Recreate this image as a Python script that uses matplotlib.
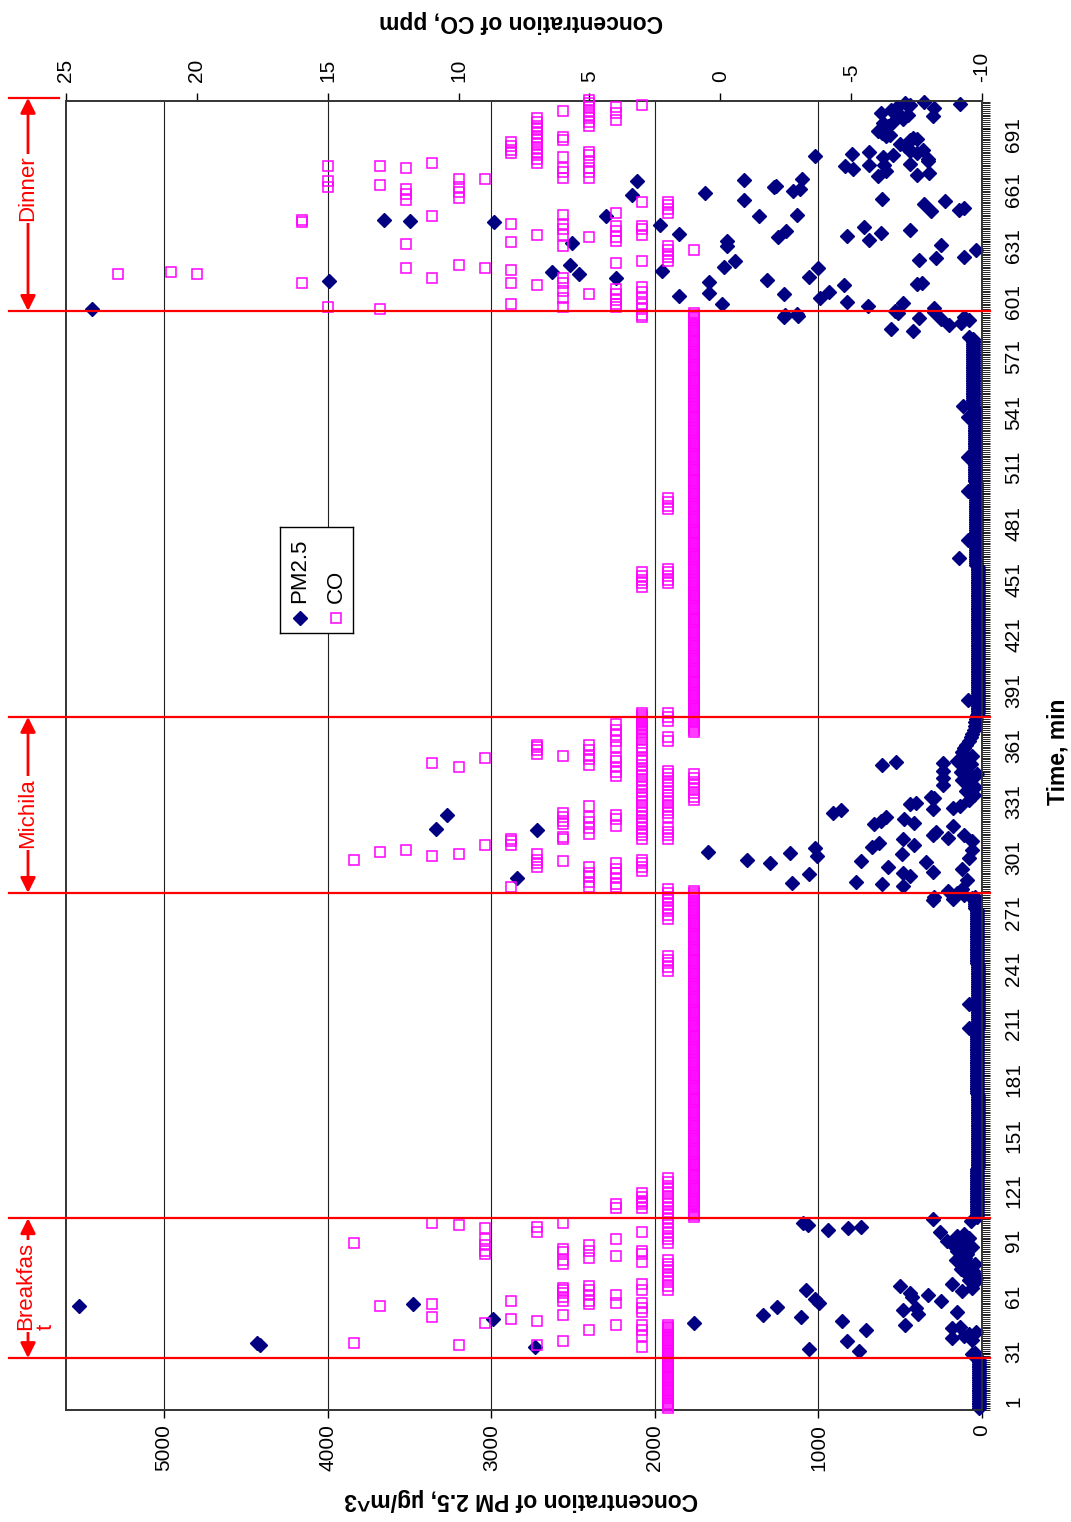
import numpy as np
import matplotlib
matplotlib.use("Agg")
import matplotlib.pyplot as plt
from matplotlib import transforms
from matplotlib.ticker import FixedLocator, MultipleLocator

plt.rcParams['font.family'] = ['Liberation Sans', 'DejaVu Sans']
plt.rcParams['axes.unicode_minus'] = False

# steady stretches (first minute, last minute, level), one reading per minute
pm_steady = [(1, 27, 16), (104, 130, 32), (131, 170, 26), (171, 205, 30), (206, 240, 24),
             (241, 270, 28), (271, 277, 45), (376, 420, 22), (421, 455, 24), (456, 500, 38),
             (501, 540, 42), (541, 578, 55)]
co_steady = [(1, 46, 2), (104, 280, 1), (366, 592, 1)]
# shorter CO stretches, one reading every 2 minutes
co_columns = [(65, 81, 2), (90, 98, 2), (101, 126, 2), (109, 118, 3), (237, 246, 2), (265, 282, 2),
              (291, 297, 3), (308, 352, 3), (356, 376, 3), (308, 314, 2), (320, 334, 2),
              (337, 346, 2), (361, 364, 2), (372, 377, 2), (329, 343, 1), (367, 375, 3),
              (444, 452, 3), (446, 455, 2), (486, 492, 2), (673, 697, 7), (693, 707, 5),
              (678, 685, 8), (646, 652, 2), (620, 628, 2)]

# PM2.5 readings (minute, ug/m3)
pm_breakfast = [(28, 25), (29, 35), (30, 60), (31, 45), (32, 754), (33, 1060), (34, 2732), (35, 4416),
                (36, 4430), (37, 825), (38, 60), (39, 185), (40, 111), (41, 80), (42, 38), (43, 709),
                (44, 185), (45, 133), (46, 470), (47, 1762), (48, 853), (49, 2987), (50, 1106),
                (51, 1340), (52, 391), (53, 150), (54, 480), (55, 406), (55.5, 1256), (56, 5522),
                (57, 3478), (58, 996), (59, 250), (60, 1018), (61, 428), (62, 333), (63, 438),
                (64, 122), (65, 1077), (66, 60), (67, 501), (68, 185), (69, 45), (70, 80), (71, 35),
                (72, 70), (73, 40), (74, 95), (75, 55), (76, 130), (77, 70), (78, 110), (79, 40),
                (80, 143), (81, 160), (82, 101), (83, 120), (84, 90), (85, 140), (86, 153), (87, 110),
                (88, 60), (89, 177), (90, 95), (91, 217), (92, 130), (93, 80), (94, 150), (95, 110),
                (96, 259), (97, 944), (98, 819), (99, 740), (100, 1064), (101, 1094), (102, 70),
                (103, 301)]
pm_michila = [(275, 301), (275.5, 179), (276, 60), (277, 293), (278, 110), (279, 150), (280, 208),
              (281, 120), (283, 480), (284, 611), (284.5, 1161), (285, 769), (286, 90), (287, 2845),
              (288, 438), (289, 1060), (290, 480), (290.5, 301), (292, 120), (293, 575), (295, 1296),
              (295.5, 343), (296, 738), (297, 1439), (298, 80), (299, 1007), (300, 491), (300.5, 1176),
              (301, 1677), (302, 60), (303, 1024), (304, 674), (305, 413), (306, 628), (307, 60),
              (308, 480), (308.5, 208), (310, 301), (310.5, 111), (312, 281), (313, 2723),
              (313.5, 3340), (315, 175), (316, 660), (316.5, 417), (318, 617), (319, 477), (320, 586),
              (321, 3271), (322, 913), (324, 864), (324.5, 301), (325, 175), (326, 133), (327, 440),
              (327.5, 406), (329, 80), (330, 291), (331, 312), (332, 50), (334, 100), (336, 40),
              (337, 238), (338, 65), (339, 90), (340, 120), (341, 238), (342, 60), (343, 30),
              (344, 130), (345, 238), (346, 110), (348, 611), (348.5, 70), (349, 238), (349.5, 523),
              (350, 150), (351, 100), (353, 60), (355, 120), (357, 110), (359, 95), (361, 80),
              (363, 70), (365, 60), (367, 50), (369, 45), (371, 40), (373, 35), (375, 30)]
pm_dinner = [(579, 79), (582, 424), (583.5, 556), (585.5, 202), (586.5, 128), (588, 79), (588.5, 249),
             (589, 385), (589.5, 111), (590, 1208), (590.5, 1127), (591, 1204), (591.5, 1134),
             (592, 515), (592.5, 291), (593, 533), (594, 5444), (594.5, 291), (595.5, 696),
             (596.5, 1587), (597.5, 480), (598, 828), (600, 990), (601, 1850), (602, 1208),
             (602.5, 1671), (603.5, 933), (607, 844), (607.5, 396), (608, 364), (608.5, 1671),
             (609, 3994), (609.5, 1313), (611, 2240), (611.5, 1060), (613, 2461), (614, 2630),
             (614.5, 1956), (616, 1003), (617, 1577), (618, 2521), (620, 1513), (620.5, 385),
             (621.5, 280), (622, 111), (626, 38), (628, 1559), (628.5, 249), (630.5, 1559),
             (629.5, 2504), (631.5, 691), (633, 1249), (633.5, 828), (634.5, 1850), (635, 617),
             (636, 1198), (636.5, 438), (638.5, 722), (639.5, 1966), (641, 2982), (641.5, 3499),
             (642, 3656), (644, 2297), (644.5, 1366), (645, 1130), (647, 312), (647.5, 143),
             (648.5, 111), (650.5, 354), (652.5, 227), (653, 1456), (653.5, 611), (655.5, 2139),
             (656.5, 1693), (657.5, 1155), (659, 1112), (660, 1271), (660.5, 1260), (663, 2108),
             (663.5, 1456), (664, 1098), (666, 638), (666.5, 396), (667.5, 322), (668.5, 586),
             (669.5, 786), (671, 839), (671.5, 691), (672, 597), (672.5, 438), (674, 333), (675, 333),
             (676, 607), (676.5, 1024), (677, 544), (677.5, 796), (678, 400), (679, 691),
             (679.5, 438), (680, 360), (681, 450), (682, 470), (683, 500), (685, 438), (686, 396),
             (686.5, 420), (687.5, 586), (688, 560), (689, 610), (690, 638), (691, 590), (693, 575),
             (694.5, 607), (695, 544), (696.5, 480), (698, 301), (698.5, 500), (699, 450),
             (700, 620), (701.5, 554), (702.5, 291), (703, 520), (704, 438), (704.5, 133),
             (705, 470), (706, 354)]
pm_spikes = [(206, 78), (219, 78), (383, 87), (459.5, 139), (469.5, 87), (496, 87), (514, 87),
             (536, 87), (542, 118)]

# CO readings (minute, ppm)
co_breakfast = [(34, 3), (35, 7), (35, 10), (36, 14), (37, 6), (40, 3), (43, 5), (43, 3), (46, 4),
                (46, 3), (47, 9), (48, 7), (49, 8), (50, 11), (51, 6), (53, 3), (55, 3), (56, 13),
                (57, 5), (57, 11), (58, 4), (58, 3), (59, 8), (59, 6), (59, 5), (61, 6), (62, 5),
                (62, 4), (63, 6), (65, 6), (65, 5), (65, 3), (66, 6), (67, 5), (68, 3), (79, 6),
                (80, 3), (81, 6), (82, 5), (83, 4), (84, 3), (84, 9), (85, 6), (86, 9), (86, 5),
                (86, 3), (87, 6), (89, 9), (89, 5), (90, 14), (92, 9), (92, 4), (96, 3), (96, 7),
                (98, 9), (99, 7), (100, 10), (101, 11), (101, 6), (109, 4), (111, 4), (112, 3)]
co_michila = [(282, 8), (282, 5), (285, 5), (288, 5), (290, 5), (293, 5), (282, 4), (284, 4),
              (287, 4), (290, 4), (292, 4), (295, 4), (293, 7), (295, 7), (296, 6), (297, 7),
              (297, 14), (299, 11), (300, 10), (300, 7), (301, 13), (302, 12), (305, 9), (305, 8),
              (307, 8), (308, 8), (308, 6), (309, 6), (311, 5), (314, 5), (315, 4), (317, 5),
              (316, 6), (318, 6), (319, 4), (320, 5), (320, 6), (321, 4), (322, 6), (326, 5),
              (342, 4), (344, 4), (347, 4), (347, 10), (349, 11), (350, 4), (348, 5), (351, 5),
              (352, 4), (352, 9), (353, 6), (353, 5), (354, 7), (356, 5), (356, 7), (358, 7),
              (358, 4), (359, 5), (359, 7), (361, 4), (364, 4), (367, 4), (370, 4)]
co_dinner = [(613, 23), (614, 21), (613, 20), (641, 16), (642, 16), (608, 16), (671, 15), (663, 15),
             (660, 15), (595, 15), (671, 13), (661, 13), (594, 13), (670, 12), (659, 12), (656, 12),
             (653, 12), (629, 12), (616, 12), (673, 11), (644, 11), (611, 11), (664, 10), (660, 10),
             (657, 10), (654, 10), (618, 10), (664, 9), (616, 9), (640, 8), (630, 8), (615, 8),
             (608, 8), (597, 8), (634, 7), (607, 7), (701, 6), (687, 6), (685, 6), (676, 6),
             (670, 6), (668, 6), (665, 6), (645, 6), (640, 6), (637, 6), (634, 6), (628, 6),
             (611, 6), (608, 6), (604, 6), (600, 6), (595, 6), (679, 5), (677, 5), (674, 5),
             (670, 5), (668, 5), (665, 5), (633, 5), (602, 5), (703, 4), (700, 4), (696, 4),
             (646, 4), (639, 4), (636, 4), (633, 4), (631, 4), (619, 4), (605, 4), (602, 4),
             (599, 4), (597, 4), (595, 4), (704, 3), (652, 3), (639, 3), (637, 3), (634, 3),
             (620, 3), (606, 3), (603, 3), (600, 3), (597, 3), (594, 3), (591, 3), (590, 3),
             (626, 1)]

# meal periods: (label, start minute, end minute)
meals = [("Breakfas\nt", 28, 103.5), ("Michila", 279, 374), ("Dinner", 593, 708)]
time_ticks = list(range(1, 692, 30))
pm_ticks = [0, 1000, 2000, 3000, 4000, 5000]
co_ticks = [-10, -5, 0, 5, 10, 15, 20, 25]


def runs_to_points(runs, step=1):
    t, v = [], []
    for start, end, level in runs:
        for m in range(start, end + 1, step):
            t.append(m)
            v.append(level)
    return t, v


pm_t, pm_v = runs_to_points(pm_steady)
for part in (pm_breakfast, pm_michila, pm_dinner, pm_spikes):
    pm_t += [p[0] for p in part]
    pm_v += [p[1] for p in part]

co_t, co_v = runs_to_points(co_steady)
col_t, col_v = runs_to_points(co_columns, step=2)
co_t += col_t
co_v += col_v
for part in (co_breakfast, co_michila, co_dinner):
    co_t += [p[0] for p in part]
    co_v += [p[1] for p in part]

W, H = 1071, 1522
fig = plt.figure(figsize=(W / 100, H / 100), dpi=100)
ax = fig.add_axes([66 / W, 1 - 1410 / H, (982 - 66) / W, (1410 - 101) / H])

ax.set_xlim(5600, 0)
ax.set_ylim(0, 706.3)
ax.set_xticks(pm_ticks)
ax.set_xticklabels([str(v) for v in pm_ticks])
ax.grid(axis='x', color='#202020', lw=0.8)
ax.set_axisbelow(True)
ax.tick_params(axis='x', direction='out', length=6, width=1, labelsize=15, labelrotation=90, pad=4)

ax.yaxis.tick_right()
ax.yaxis.set_major_locator(FixedLocator(time_ticks))
ax.yaxis.set_minor_locator(MultipleLocator(1))
ax.set_yticklabels([str(v) for v in time_ticks])
ax.tick_params(axis='y', which='major', direction='out', length=6, width=0.8, labelsize=15,
               labelrotation=90, pad=10)
ax.tick_params(axis='y', which='minor', direction='out', length=6, width=0.6)
shift = transforms.ScaledTranslation(0, 5 / 100, fig.dpi_scale_trans)
for lab in ax.get_yticklabels():
    lab.set_transform(lab.get_transform() + shift)

ax.plot(pm_v, pm_t, ls='none', marker='D', ms=7, color='#000080', clip_on=False, zorder=3)

ax2 = ax.twiny()
ax2.set_xlim(25, -10)
ax2.set_xticks(co_ticks)
ax2.set_xticklabels([str(v) for v in co_ticks])
ax2.tick_params(axis='x', direction='out', length=6, width=1, labelsize=15, labelrotation=90, pad=8)
ax2.plot(co_v, co_t, ls='none', marker='s', ms=7, mfc='none', mec='#FF00FF', mew=1.1,
         clip_on=False, zorder=3)

for a in (ax, ax2):
    for s in a.spines.values():
        s.set_color('#333333')
        s.set_linewidth(1.2)

# meal markers drawn outside the plot area on the left
trans = transforms.blended_transform_factory(fig.transFigure, ax.transData)
for label, start, end in meals:
    ax2.plot([9 / W, 990 / W], [start, start], color='red', lw=1.6, transform=trans,
             clip_on=False, zorder=5)
    right = 990 / W if end < 700 else 59 / W
    ax2.plot([9 / W, right], [end, end], color='red', lw=1.6, transform=trans,
             clip_on=False, zorder=5)
    ax2.annotate('', xy=(28 / W, end), xytext=(28 / W, start), xycoords=trans, textcoords=trans,
                 arrowprops=dict(arrowstyle='<|-|>,head_length=0.6,head_width=0.3', color='red',
                                 lw=2, mutation_scale=15, shrinkA=0, shrinkB=0),
                 annotation_clip=False, zorder=5)

label_pos = {"Breakfas\nt": (36, 66.8), "Michila": (28, 322), "Dinner": (28, 659)}
for label, start, end in meals:
    xp, tp = label_pos[label]
    ax2.text(xp / W, tp, label, transform=trans, rotation=90, ha='center', va='center',
             multialignment='left', color='red', fontsize=16, zorder=6, linespacing=1.0,
             bbox=dict(facecolor='white', edgecolor='none', pad=1.5), clip_on=False)

# legend, rotated like the rest of the chart
lg = fig.add_axes([280 / W, 1 - 633 / H, 73 / W, 106 / H])
lg.set_xlim(280, 353)
lg.set_ylim(633, 527)
lg.set_xticks([])
lg.set_yticks([])
for s in lg.spines.values():
    s.set_color('black')
    s.set_linewidth(1)
lg.plot([300], [618], ls='none', marker='D', ms=7, color='#000080')
lg.plot([336], [618], ls='none', marker='s', ms=7, mfc='none', mec='#FF00FF', mew=1.1)
lg.text(300, 603, 'PM2.5', rotation=90, rotation_mode='anchor', ha='left', va='center', fontsize=16)
lg.text(336, 603, 'CO', rotation=90, rotation_mode='anchor', ha='left', va='center', fontsize=16)

fig.text(521 / W, 1 - 1500 / H, 'Concentration of PM 2.5, µg/m^3', rotation=180, ha='center',
         va='center', fontsize=16.5, fontweight='bold')
fig.text(521 / W, 1 - 22 / H, 'Concentration of CO, ppm', rotation=180, ha='center',
         va='center', fontsize=16.5, fontweight='bold')
fig.text(1058 / W, 1 - 752 / H, 'Time, min', rotation=90, ha='center', va='center',
         fontsize=16.5, fontweight='bold')

fig.savefig('out.png', dpi=100)
